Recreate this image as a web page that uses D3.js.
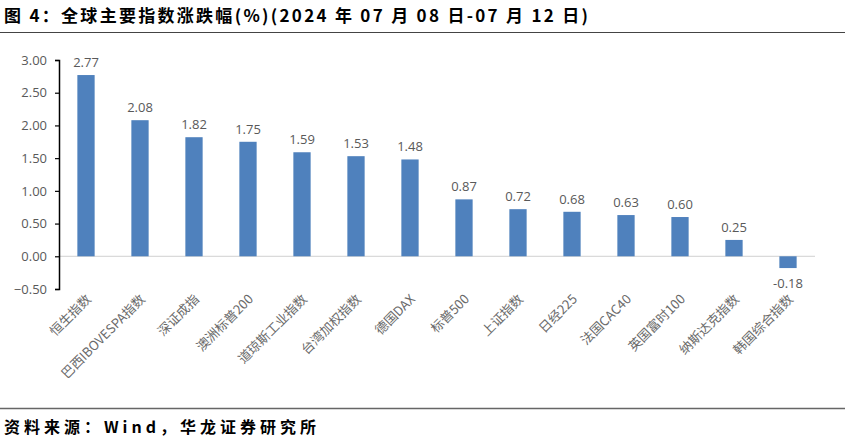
<!DOCTYPE html>
<html>
<head>
<meta charset="utf-8">
<script src="https://cdn.jsdelivr.net/npm/d3@7"></script>
<style>
body { margin: 0; background: #fff; }
svg { display: block; }
</style>
</head>
<body>
<div id="chart"></div>
<script>
const categories = ["恒生指数", "巴西IBOVESPA指数", "深证成指", "澳洲标普200", "道琼斯工业指数", "台湾加权指数", "德国DAX", "标普500", "上证指数", "日经225", "法国CAC40", "英国富时100", "纳斯达克指数", "韩国综合指数"];
const values = [2.77, 2.08, 1.82, 1.75, 1.59, 1.53, 1.48, 0.87, 0.72, 0.68, 0.63, 0.60, 0.25, -0.18];
const yTicks = [-0.5, 0, 0.5, 1, 1.5, 2, 2.5, 3];
const title = "图 4：全球主要指数涨跌幅(%)(2024 年 07 月 08 日-07 月 12 日)";
const source = "资料来源：Wind，华龙证券研究所";

const width = 845, height = 443;
const svg = d3.select("#chart").append("svg")
	.attr("width", width)
	.attr("height", height);

const cjk = "'Noto Sans CJK SC', 'Noto Sans', sans-serif";
const grey = "#595959";

// title + rules
svg.append("text")
	.attr("x", 4).attr("y", 22)
	.attr("font-family", cjk).attr("font-weight", "bold")
	.attr("font-size", 17).attr("fill", "#000")
	.attr("textLength", 584).attr("lengthAdjust", "spacing")
	.text(title);
svg.append("line")
	.attr("x1", 0).attr("x2", width).attr("y1", 32.5).attr("y2", 32.5)
	.attr("stroke", "#444").attr("stroke-width", 1.2);
svg.append("line")
	.attr("x1", 0).attr("x2", width).attr("y1", 408.5).attr("y2", 408.5)
	.attr("stroke", "#666").attr("stroke-width", 1.5);
svg.append("text")
	.attr("x", 4).attr("y", 433)
	.attr("font-family", cjk).attr("font-weight", "bold")
	.attr("font-size", 16).attr("fill", "#000")
	.attr("textLength", 312).attr("lengthAdjust", "spacing")
	.text(source);

// scales
const x = d3.scaleBand().domain(categories).range([59, 815]).paddingInner(0.68).paddingOuter(0.34);
const y = d3.scaleLinear().domain([-0.5, 3]).range([289, 60]);

// zero line
svg.append("line")
	.attr("x1", 59).attr("x2", 815)
	.attr("y1", y(0)).attr("y2", y(0))
	.attr("stroke", "#d0d0d0").attr("stroke-width", 1);

// y axis
const axisY = svg.append("g")
	.attr("transform", "translate(59,0)")
	.call(d3.axisLeft(y).tickValues(yTicks).tickSize(4).tickPadding(8).tickFormat(d3.format(".2f")));
axisY.select(".domain").attr("stroke", "#000").attr("stroke-width", 1.5);
axisY.selectAll(".tick line").attr("stroke", "#000").attr("stroke-width", 1.2);
axisY.selectAll(".tick text")
	.attr("font-family", "'Open Sans', 'Noto Sans', sans-serif")
	.attr("font-size", 13).attr("fill", grey);

// bars
svg.selectAll(".bar")
	.data(values)
	.enter()
	.append("rect")
	.attr("class", "bar")
	.attr("x", (d, i) => x(categories[i]))
	.attr("width", x.bandwidth())
	.attr("y", (d) => y(Math.max(0, d)))
	.attr("height", (d) => Math.abs(y(d) - y(0)))
	.attr("fill", "#4f81bd");

// value labels
svg.selectAll(".val")
	.data(values)
	.enter()
	.append("text")
	.attr("class", "val")
	.attr("x", (d, i) => x(categories[i]) + x.bandwidth() / 2)
	.attr("y", (d) => d >= 0 ? y(d) - 8 : y(d) + 20)
	.attr("text-anchor", "middle")
	.attr("font-family", "'Open Sans', 'Noto Sans', sans-serif")
	.attr("font-size", 13).attr("fill", grey)
	.text((d) => d.toFixed(2));

// category labels
svg.selectAll(".cat")
	.data(categories)
	.enter()
	.append("text")
	.attr("class", "cat")
	.attr("transform", (d) => `translate(${x(d) + x.bandwidth() / 2 + 6},${300}) rotate(-45)`)
	.attr("text-anchor", "end")
	.attr("font-family", cjk)
	.attr("font-size", 13).attr("fill", "#6a6a6a")
	.text((d) => d);
</script>
</body>
</html>
